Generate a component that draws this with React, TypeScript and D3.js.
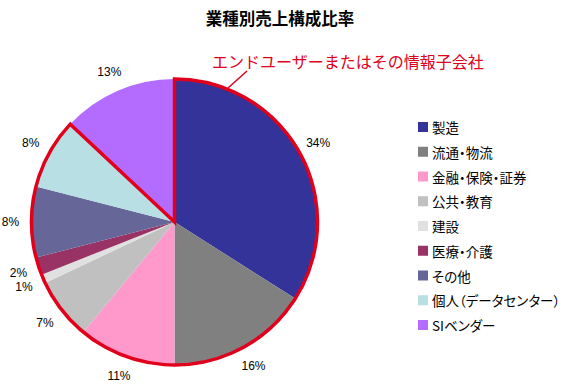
import React from 'react';
import * as d3 from 'd3';

const categories = ['製造', '流通・物流', '金融・保険・証券', '公共・教育', '建設', '医療・介護', 'その他', '個人（データセンター）', 'SIベンダー'];
const shares = [34, 16, 11, 7, 1, 2, 8, 8, 13];
const colors = ['#333399', '#808080', '#FF99CC', '#C0C0C0', '#E0E0E0', '#993366', '#666699', '#B7DFE4', '#B36CFF'];
// slices outlined in red = everything except the last one
const outlinedCount = 8;

const title = '業種別売上構成比率';
const note = 'エンドユーザーまたはその情報子会社';

export default function App() {
  const w = 573, h = 385;
  const cx = 174.5, cy = 222, r = 143;

  const pie = d3.pie<number>().sort(null).value(d => d);
  const slices = pie(shares);
  const arc = d3.arc<d3.PieArcDatum<number>>().innerRadius(0).outerRadius(r);
  const labelArc = d3.arc<d3.PieArcDatum<number>>().innerRadius(164).outerRadius(164);

  const outlineEnd = slices[outlinedCount - 1].endAngle;
  const outline = d3.arc()({ innerRadius: 0, outerRadius: r, startAngle: 0, endAngle: outlineEnd }) as string;

  const legendY = d3.scalePoint<string>().domain(categories).range([127, 325]);

  return (
    <svg width={w} height={h} style={{ position: 'absolute', left: 0, top: 0, background: '#fff' }}>
      <text x={280} y={18} textAnchor="middle" dominantBaseline="central"
        fontFamily="'Noto Sans CJK JP', sans-serif" fontWeight="bold" fontSize={16.5}>{title}</text>

      <g transform={`translate(${cx},${cy})`}>
        {slices.map((s, i) => (
          <path key={i} d={arc(s) as string} fill={colors[i]} />
        ))}
        <path d={outline} fill="none" stroke="#E0001B" strokeWidth={3.5} strokeLinejoin="miter" />
        {slices.map((s, i) => {
          const [lx, ly] = labelArc.centroid(s);
          return (
            <text key={i} x={lx} y={ly} textAnchor="middle" dominantBaseline="central"
              fontFamily="'Liberation Sans', Arial, sans-serif" fontSize={12}>{shares[i]}%</text>
          );
        })}
      </g>

      <text x={212} y={61} dominantBaseline="central" fill="#E0001B"
        fontFamily="'Noto Sans CJK JP', sans-serif" fontSize={16}>{note}</text>
      <line x1={247} y1={71} x2={228} y2={88} stroke="#E0001B" strokeWidth={1.5} />

      {categories.map((c, i) => (
        <g key={c} transform={`translate(418,${legendY(c)})`}>
          <rect x={0} y={-5} width={10} height={10} fill={colors[i]} />
          <text x={14} y={0} dominantBaseline="central" style={{ fontFeatureSettings: '"palt"' }}
            fontFamily="'Noto Sans CJK JP', sans-serif" fontSize={13.5}>{c}</text>
        </g>
      ))}
    </svg>
  );
}
